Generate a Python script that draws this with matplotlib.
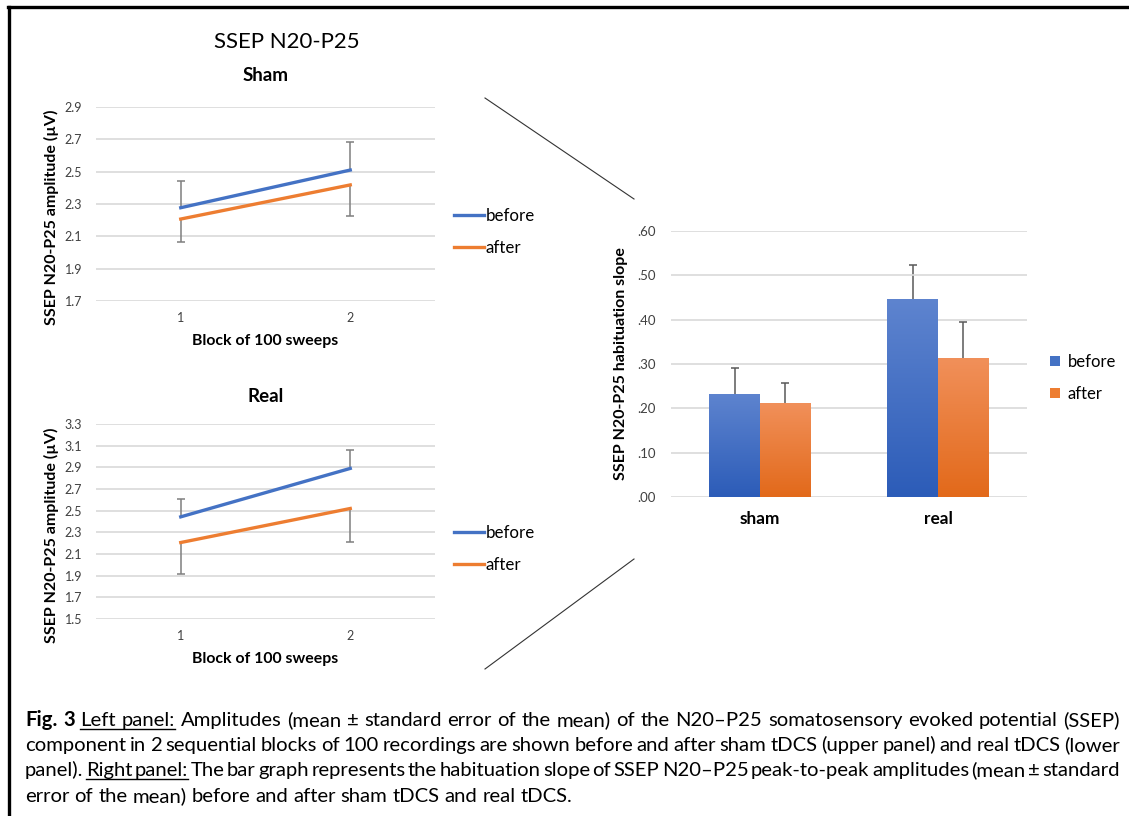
import numpy as np
import matplotlib
matplotlib.use("Agg")
import matplotlib.pyplot as plt
from matplotlib.lines import Line2D
from matplotlib.transforms import IdentityTransform

# ---- data ----
blocks = [1, 2]
block_labels = ["1", "2"]

sham_before = [2.277, 2.51]
sham_after = [2.207, 2.418]
sham_before_err = [0.167, 0.174]   # plus only
sham_after_err = [0.142, 0.194]    # minus only

real_before = [2.443, 2.89]
real_after = [2.206, 2.52]
real_before_err = [0.163, 0.17]
real_after_err = [0.293, 0.308]

sham_ticks = [1.7, 1.9, 2.1, 2.3, 2.5, 2.7, 2.9]
real_ticks = [1.5, 1.7, 1.9, 2.1, 2.3, 2.5, 2.7, 2.9, 3.1, 3.3]

groups = ["sham", "real"]
slope_before = [0.2325, 0.446]
slope_after = [0.212, 0.3135]
slope_before_err = [0.0575, 0.077]
slope_after_err = [0.0445, 0.081]
slope_ticks = [0.0, 0.1, 0.2, 0.3, 0.4, 0.5, 0.6]
slope_tick_labels = [".00", ".10", ".20", ".30", ".40", ".50", ".60"]

caption_lines = [
    "Fig. 3 Left panel: Amplitudes (mean \u00b1 standard error of the mean) of the N20\u2013P25 somatosensory evoked potential (SSEP)",
    "component in 2 sequential blocks of 100 recordings are shown before and after sham tDCS (upper panel) and real tDCS (lower",
    "panel). Right panel: The bar graph represents the habituation slope of SSEP N20\u2013P25 peak-to-peak amplitudes (mean \u00b1 standard",
    "error of the mean) before and after sham tDCS and real tDCS.",
]

BLUE = "#4472C4"
ORANGE = "#ED7D31"
GRID = "#d9d9d9"
TICKC = "#404040"
ERRC = "#7f7f7f"
FONT = "Lato"

W, H = 1129, 816
plt.rcParams["font.family"] = [FONT, "DejaVu Sans"]

fig = plt.figure(figsize=(W / 100, H / 100), dpi=100)
fig.patch.set_facecolor("white")


def box(left, top, right, bottom):
    return [left / W, 1 - bottom / H, (right - left) / W, (bottom - top) / H]


def fpt(x, y):
    return x / W, 1 - y / H


def one_sided_err(ax, xs, ys, errs, up, color, capw=6):
    # office style: error bar drawn only on one side, cap at the far end
    ends = [y + e if up else y - e for y, e in zip(ys, errs)]
    ax.vlines(xs, ys, ends, color=color, lw=1.1, zorder=1.5)
    ax.plot(xs, ends, ls="none", marker="_", ms=capw, mew=1.1, color=color, zorder=1.5)


def line_panel(rect, before, after, err_b, err_a, ticks, title, title_pad, leg_y):
    ax = fig.add_axes(rect)
    ax.set_xlim(0.5, 2.5)
    ax.set_ylim(ticks[0], ticks[-1])
    ax.set_yticks(ticks)
    ax.set_yticklabels([f"{t:.1f}" for t in ticks])
    ax.set_xticks(blocks)
    ax.set_xticklabels(block_labels)
    ax.grid(axis="y", color=GRID, lw=1.2)
    ax.set_axisbelow(True)
    for s in ax.spines.values():
        s.set_visible(False)
    ax.tick_params(length=0, labelsize=9, colors=TICKC)
    ax.tick_params(axis="y", pad=10)
    ax.tick_params(axis="x", pad=8)
    one_sided_err(ax, blocks, before, err_b, True, ERRC)
    one_sided_err(ax, blocks, after, err_a, False, ERRC)
    lb, = ax.plot(blocks, before, color=BLUE, lw=2.4, label="before", zorder=3)
    la, = ax.plot(blocks, after, color=ORANGE, lw=2.4, label="after", zorder=3)
    ax.set_title(title, fontsize=13.5, fontweight="bold", pad=title_pad)
    ax.set_xlabel("Block of 100 sweeps", fontsize=11.4, fontweight="bold", labelpad=7)
    ax.set_ylabel("SSEP N20-P25 amplitude (\u00b5V)", fontsize=11.5, fontweight="bold")
    ax.yaxis.set_label_coords(-0.11, 0.43)
    ax.legend(handles=[lb, la], loc="upper left", bbox_to_anchor=fpt(454, leg_y),
              bbox_transform=fig.transFigure, frameon=False, fontsize=12.2,
              handlelength=1.75, handletextpad=0.12, labelspacing=0.95,
              borderaxespad=0, borderpad=0)
    return ax


ax1 = line_panel(box(96, 107, 435, 301), sham_before, sham_after,
                 sham_before_err, sham_after_err, sham_ticks, "Sham", 18.5, 208)
ax2 = line_panel(box(96, 424, 435, 619), real_before, real_after,
                 real_before_err, real_after_err, real_ticks, "Real", 16, 525)

fig.text(*fpt(287, 42), "SSEP N20-P25", fontsize=16, ha="center", va="center")

# ---- bar panel ----
ax3 = fig.add_axes(box(671, 231, 1027, 497))
x = np.arange(len(groups))
bw = 0.285
ax3.grid(axis="y", color=GRID, lw=1.2)
ax3.set_axisbelow(True)
for s in ax3.spines.values():
    s.set_visible(False)
ax3.tick_params(length=0, labelsize=9.5, colors=TICKC)
ax3.tick_params(axis="y", pad=11)
ax3.tick_params(axis="x", pad=10, labelsize=12.4, labelcolor="black")

bars_b = ax3.bar(x - bw / 2, slope_before, bw, color=BLUE, label="before")
bars_a = ax3.bar(x + bw / 2, slope_after, bw, color=ORANGE, label="after")
one_sided_err(ax3, x - bw / 2, slope_before, slope_before_err, True, "#595959")
one_sided_err(ax3, x + bw / 2, slope_after, slope_after_err, True, "#595959")
for ln in ax3.collections + ax3.lines:
    ln.set_zorder(0.5)

# vertical gradient fill like the office chart
grad = np.linspace(0, 1, 256).reshape(-1, 1)
cm_b = matplotlib.colors.LinearSegmentedColormap.from_list("b", ["#2c5cb8", "#5e84cf"])
cm_a = matplotlib.colors.LinearSegmentedColormap.from_list("a", ["#e2691a", "#f1905a"])
for bars, cm in ((bars_b, cm_b), (bars_a, cm_a)):
    for p in bars:
        x0, y0 = p.get_x(), p.get_y()
        im = ax3.imshow(grad, cmap=cm, aspect="auto", origin="lower",
                        extent=(x0, x0 + p.get_width(), y0, y0 + p.get_height()),
                        zorder=p.get_zorder() + 0.1)
        im.set_clip_path(p)
ax3.set_xlim(-0.5, 1.5)
ax3.set_ylim(0, 0.6)
ax3.set_yticks(slope_ticks)
ax3.set_yticklabels(slope_tick_labels)
ax3.set_xticks(x)
ax3.set_xticklabels(groups, fontweight="bold")

ax3.set_ylabel("SSEP N20-P25 habituation slope", fontsize=11.5, fontweight="bold")
ax3.yaxis.set_label_coords(-0.12, 0.5)
ax3.legend(handles=[bars_b, bars_a], loc="upper left", bbox_to_anchor=fpt(1050, 354),
           bbox_transform=fig.transFigure, frameon=False, fontsize=12,
           handlelength=0.6, handleheight=0.6, handletextpad=0.45,
           labelspacing=0.95, borderaxespad=0, borderpad=0)

# ---- connector lines and frame ----
fig.add_artist(Line2D([485 / W, 634 / W], [1 - 98 / H, 1 - 199 / H], color="#333333", lw=0.8))
fig.add_artist(Line2D([634 / W, 485 / W], [1 - 559 / H, 1 - 669 / H], color="#333333", lw=0.8))
fig.add_artist(Line2D([8 / W, 1], [1 - 7 / H, 1 - 7 / H], color="black", lw=2.4))
fig.add_artist(Line2D([9 / W, 9 / W], [1 - 7 / H, 0], color="black", lw=2.4))

# ---- justified caption ----
renderer = fig.canvas.get_renderer()
cap_size = 14.6
x_left, x_right = 25, 1120
line_y = [721, 746, 771, 797]
bold_words = {(0, 0), (0, 1)}
underline_runs = [(0, 2, 4), (2, 1, 3)]

for li, line in enumerate(caption_lines):
    words = line.split(" ")
    size = cap_size
    while True:
        texts = []
        for wi, w in enumerate(words):
            t = fig.text(0, 0, w, fontsize=size, transform=IdentityTransform(),
                         fontweight="bold" if (li, wi) in bold_words else "normal",
                         va="baseline", ha="left")
            texts.append(t)
        widths = [t.get_window_extent(renderer).width for t in texts]
        min_gap = 2.5
        if sum(widths) + min_gap * (len(words) - 1) <= x_right - x_left or size < 9:
            break
        for t in texts:
            t.remove()
        size -= 0.2
    space = size * 0.25 * 100 / 72
    if li < len(caption_lines) - 1:
        space = (x_right - x_left - sum(widths)) / (len(words) - 1)
    xs = []
    cx = x_left
    for t, wd in zip(texts, widths):
        t.set_position((cx, H - line_y[li] - 5))
        xs.append((cx, cx + wd))
        cx += wd + space
    for rl, a, b in underline_runs:
        if rl == li:
            x0 = xs[a][0] / W
            x1 = xs[b - 1][1] / W
            uy = 1 - (line_y[li] + 8) / H
            fig.add_artist(Line2D([x0, x1], [uy, uy], color="black", lw=1.0))

fig.savefig("out.png", dpi=100)
